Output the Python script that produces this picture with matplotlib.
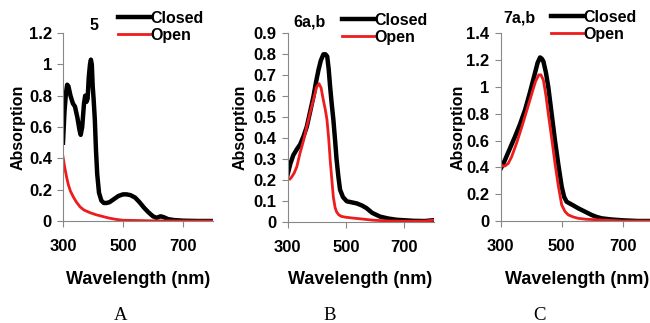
import matplotlib.pyplot as plt

plt.rcParams['font.family'] = ['Liberation Sans', 'DejaVu Sans']
plt.rcParams['font.weight'] = 'bold'

# --- data ---
x_ticks = [300, 500, 700]

# panel A, compound 5
a_closed_nm = [300, 305, 310, 314, 318, 325, 333, 340, 348, 355, 359, 364, 370, 374, 378, 382, 386,
               390, 393, 396, 399, 402, 406, 410, 414, 420, 428, 436, 445, 455, 470, 485, 500, 512,
               525, 540, 555, 570, 585, 600, 612, 625, 635, 650, 670, 700, 750, 800]
a_closed = [0.50, 0.70, 0.82, 0.87, 0.86, 0.80, 0.75, 0.73, 0.66, 0.58, 0.55, 0.60, 0.75, 0.80, 0.76,
            0.78, 0.92, 1.00, 1.03, 1.00, 0.86, 0.78, 0.65, 0.45, 0.30, 0.18, 0.13, 0.115, 0.115, 0.12,
            0.14, 0.16, 0.17, 0.17, 0.165, 0.15, 0.12, 0.085, 0.055, 0.03, 0.02, 0.03, 0.025, 0.012,
            0.006, 0.002, 0.0, 0.0]
a_open_nm = [300, 306, 312, 318, 325, 334, 345, 357, 370, 390, 410, 434, 455, 478, 500, 550, 600, 700, 800]
a_open = [0.41, 0.34, 0.28, 0.23, 0.19, 0.155, 0.12, 0.09, 0.07, 0.053, 0.04, 0.028, 0.018, 0.01,
          0.005, 0.003, 0.001, 0.0, 0.0]

# panel B, compounds 6a,b
b_closed_nm = [300, 310, 320, 333, 343, 355, 366, 378, 389, 398, 406, 414, 423, 430, 436, 441, 446,
               451, 457, 463, 468, 474, 480, 490, 503, 520, 537, 555, 571, 590, 617, 645, 674, 731, 770, 800]
b_closed = [0.225, 0.28, 0.32, 0.35, 0.37, 0.41, 0.455, 0.53, 0.60, 0.67, 0.725, 0.77, 0.80, 0.80,
            0.79, 0.73, 0.645, 0.57, 0.49, 0.39, 0.30, 0.22, 0.155, 0.12, 0.10, 0.095, 0.09, 0.08,
            0.067, 0.045, 0.027, 0.018, 0.012, 0.007, 0.006, 0.01]
b_open_nm = [300, 308, 315, 323, 332, 343, 355, 366, 377, 389, 400, 408, 415, 423, 429, 435, 441,
             446, 452, 457, 463, 468, 476, 485, 500, 525, 560, 593, 650, 720, 770, 800]
b_open = [0.21, 0.205, 0.217, 0.235, 0.265, 0.33, 0.39, 0.455, 0.52, 0.585, 0.645, 0.66, 0.64, 0.58,
          0.54, 0.49, 0.40, 0.30, 0.20, 0.12, 0.07, 0.05, 0.035, 0.028, 0.024, 0.02, 0.015, 0.01,
          0.006, 0.005, 0.006, 0.01]

# panel C, compounds 7a,b
c_closed_nm = [300, 307, 314, 330, 347, 363, 380, 396, 412, 421, 429, 435, 440, 448, 456, 467, 478,
               489, 500, 508, 516, 535, 554, 576, 598, 615, 631, 660, 700, 750, 800]
c_closed = [0.39, 0.42, 0.455, 0.54, 0.63, 0.72, 0.83, 0.96, 1.10, 1.18, 1.22, 1.21, 1.19, 1.11, 1.00,
            0.80, 0.60, 0.42, 0.256, 0.18, 0.144, 0.12, 0.095, 0.07, 0.045, 0.03, 0.02, 0.012,
            0.005, 0.0, 0.0]
c_open_nm = [300, 307, 314, 325, 336, 352, 369, 385, 402, 414, 425, 432, 440, 448, 456, 467, 478,
             489, 500, 511, 522, 538, 554, 580, 608, 650, 700, 800]
c_open = [0.42, 0.41, 0.41, 0.43, 0.48, 0.58, 0.70, 0.82, 0.95, 1.04, 1.09, 1.09, 1.05, 0.94, 0.80,
          0.62, 0.43, 0.26, 0.12, 0.07, 0.045, 0.03, 0.02, 0.013, 0.01, 0.005, 0.0, 0.0]

panels = [
    dict(title='5', closed=(a_closed_nm, a_closed), open=(a_open_nm, a_open),
         yticks=[0, 0.2, 0.4, 0.6, 0.8, 1.0, 1.2],
         ylabels=['0', '0.2', '0.4', '0.6', '0.8', '1', '1.2'], ymax=1.2,
         box=(63, 213, 33, 221), title_xy=(94, 26), leg_xy=(118, 11), ylab_x=18,
         letter='A', letter_x=121),
    dict(title='6a,b', closed=(b_closed_nm, b_closed), open=(b_open_nm, b_open),
         yticks=[0, 0.1, 0.2, 0.3, 0.4, 0.5, 0.6, 0.7, 0.8, 0.9],
         ylabels=['0', '0.1', '0.2', '0.3', '0.4', '0.5', '0.6', '0.7', '0.8', '0.9'], ymax=0.9,
         box=(287.5, 433.5, 33.3, 222.3), title_xy=(310, 22), leg_xy=(342, 13), ylab_x=240,
         letter='B', letter_x=330),
    dict(title='7a,b', closed=(c_closed_nm, c_closed), open=(c_open_nm, c_open),
         yticks=[0, 0.2, 0.4, 0.6, 0.8, 1.0, 1.2, 1.4],
         ylabels=['0', '0.2', '0.4', '0.6', '0.8', '1', '1.2', '1.4'], ymax=1.4,
         box=(500.7, 653.2, 33.3, 221), title_xy=(519, 18), leg_xy=(551, 10), ylab_x=458,
         letter='C', letter_x=540),
]

W, H = 650, 323
fig = plt.figure(figsize=(6.5, 3.23), dpi=100)

for p in panels:
    x0, x1, yt, yb = p['box']
    ax = fig.add_axes([x0 / W, 1 - yb / H, (x1 - x0) / W, (yb - yt) / H])
    ax.plot(*p['closed'], color='black', lw=3.2, label='Closed', solid_joinstyle='round')
    ax.plot(*p['open'], color='#ee1c1c', lw=2.0, label='Open')
    ax.set_xlim(300, 800)
    ax.set_ylim(0, p['ymax'])
    ax.set_xticks(x_ticks)
    ax.set_yticks(p['yticks'])
    ax.set_yticklabels(p['ylabels'])
    ax.tick_params(labelsize=12, length=4, width=0.8, color='#888888', direction='out', pad=4)
    ax.tick_params(axis='x', pad=9)
    for s in ['top', 'right']:
        ax.spines[s].set_visible(False)
    for s in ['left', 'bottom']:
        ax.spines[s].set_color('#888888')
        ax.spines[s].set_linewidth(0.8)
    for lab in ax.get_xticklabels() + ax.get_yticklabels():
        lab.set_fontweight('bold')
    ax.set_xlabel('Wavelength (nm)', fontsize=13, fontweight='bold')
    ax.xaxis.set_label_coords(0.5, 1 - (271 - yt) / (yb - yt), transform=ax.transAxes)
    fig.text(p['ylab_x'] / W, 1 - (yt + yb) / 2 / H, 'Absorption', rotation=90, fontsize=11.5,
             fontweight='bold', ha='center', va='center')
    fig.text(p['title_xy'][0] / W, 1 - p['title_xy'][1] / H, p['title'], fontsize=11.5,
             fontweight='bold', ha='center', va='center')
    ax.legend(loc='upper left', bbox_to_anchor=(p['leg_xy'][0] / W, 1 - p['leg_xy'][1] / H),
              bbox_transform=fig.transFigure, frameon=False, fontsize=11.5, handlelength=2.0,
              handletextpad=0.05, borderpad=0, borderaxespad=0, labelspacing=0.1)
    fig.text(p['letter_x'] / W, 1 - 315 / H, p['letter'], fontsize=13.5, fontfamily='Liberation Serif',
             fontweight='normal', ha='center', va='center')

fig.savefig('out.png', dpi=100)
